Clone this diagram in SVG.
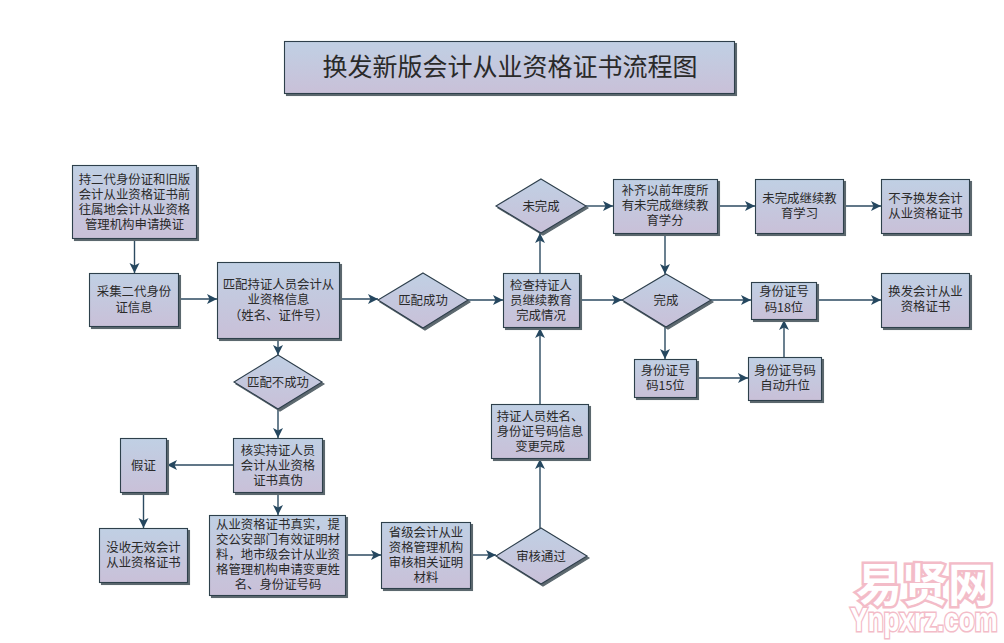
<svg xmlns="http://www.w3.org/2000/svg" width="1004" height="643" viewBox="0 0 1004 643">
<style>
.s{fill:url(#g);stroke:#2e3f4c;stroke-width:1.1;filter:url(#sh)}
text{font-family:"Noto Sans CJK SC","Liberation Serif",sans-serif;fill:#2a2a2a;text-anchor:middle;font-size:12.4px}
.t{font-size:25px}
.c line{stroke:#2c4a60;stroke-width:1.4;marker-end:url(#a)}
.w{font-weight:700;fill:#fff;stroke:#f3bcc8;paint-order:stroke}
.w1{font-size:46px;stroke-width:5px}
.w2{font-family:"Liberation Sans",sans-serif;font-size:26px;stroke-width:2.5px}
</style>
<defs>
<linearGradient id="g" x1="0" y1="0" x2="0" y2="1"><stop offset="0" stop-color="#c0d0e4"/><stop offset="1" stop-color="#c9c0d8"/></linearGradient>
<filter id="sh" x="-10%" y="-10%" width="120%" height="125%"><feDropShadow dx="2" dy="2" stdDeviation="0.5" flood-color="#5c686e"/></filter>
<marker id="a" markerUnits="userSpaceOnUse" markerWidth="12" markerHeight="12" refX="10" refY="5" orient="auto"><path d="M0 0L10 5L0 10L2.500 5Z" fill="#25475f"/></marker>
</defs>
<rect width="1004" height="643" fill="#fff"/>
<g id="connectors" class="c">
<line x1="134.500" y1="239" x2="134.500" y2="273"/>
<line x1="179" y1="299" x2="217" y2="299"/>
<line x1="340" y1="299" x2="378" y2="299"/>
<line x1="278" y1="339" x2="278" y2="355"/>
<line x1="278" y1="409" x2="278" y2="438"/>
<line x1="234" y1="465" x2="167" y2="465"/>
<line x1="143.500" y1="492" x2="143.500" y2="528"/>
<line x1="278" y1="492" x2="278" y2="515"/>
<line x1="346" y1="555" x2="381" y2="555"/>
<line x1="471" y1="555" x2="496" y2="555"/>
<line x1="540" y1="528" x2="540" y2="459"/>
<line x1="540" y1="404" x2="540" y2="328"/>
<line x1="468" y1="300" x2="503" y2="300"/>
<line x1="540" y1="273" x2="540" y2="233"/>
<line x1="586" y1="206" x2="613" y2="206"/>
<line x1="718" y1="206" x2="755" y2="206"/>
<line x1="844" y1="206" x2="881" y2="206"/>
<line x1="665" y1="233" x2="665" y2="274"/>
<line x1="579" y1="300" x2="622" y2="300"/>
<line x1="711" y1="300" x2="751" y2="300"/>
<line x1="817" y1="300" x2="881" y2="300"/>
<line x1="665" y1="327" x2="665" y2="359"/>
<line x1="697" y1="378" x2="748" y2="378"/>
<line x1="784" y1="357" x2="784" y2="320"/>
</g>
<g id="title"><rect class="s" x="284.500" y="41.500" width="450" height="52"/><text class="t" x="510" y="76">换发新版会计从业资格证书流程图</text></g>
<g id="n1"><rect class="s" x="72.500" y="165.500" width="124" height="73"/><text x="134.500" y="183.500">持二代身份证和旧版<tspan x="134.500" y="198.800">会计从业资格证书前</tspan><tspan x="134.500" y="214.100">往属地会计从业资格</tspan><tspan x="134.500" y="229.400">管理机构申请换证</tspan></text></g>
<g id="n2"><rect class="s" x="89.500" y="273.500" width="89" height="53"/><text x="134" y="296">采集二代身份<tspan x="134" y="312">证信息</tspan></text></g>
<g id="n3"><rect class="s" x="217.500" y="262.500" width="122" height="76"/><text x="278.500" y="289">匹配持证人员会计从<tspan x="278.500" y="304">业资格信息</tspan><tspan x="278.500" y="320">（姓名、证件号）</tspan></text></g>
<g id="d1"><path class="s" d="M423 273L468 300L423 328L378 300Z"/><text x="423" y="304.500">匹配成功</text></g>
<g id="d2"><path class="s" d="M278 355L322 382L278 409L234 382Z"/><text x="278" y="386.500">匹配不成功</text></g>
<g id="n4"><rect class="s" x="233.500" y="438.500" width="89" height="54"/><text x="278" y="454.500">核实持证人员<tspan x="278" y="469.500">会计从业资格</tspan><tspan x="278" y="484.500">证书真伪</tspan></text></g>
<g id="n5"><rect class="s" x="120.500" y="438.500" width="46" height="54"/><text x="143.500" y="470">假证</text></g>
<g id="n6"><rect class="s" x="99.500" y="528.500" width="88" height="54"/><text x="143.500" y="552">没收无效会计<tspan x="143.500" y="567">从业资格证书</tspan></text></g>
<g id="n7"><rect class="s" x="209.500" y="515.500" width="136" height="80"/><text x="278" y="529">从业资格证书真实，提<tspan x="278" y="544">交公安部门有效证明材</tspan><tspan x="278" y="559">料，地市级会计从业资</tspan><tspan x="278" y="574">格管理机构申请变更姓</tspan><tspan x="278" y="589">名、身份证号码</tspan></text></g>
<g id="n8"><rect class="s" x="381.500" y="522.500" width="89" height="66"/><text x="426" y="537">省级会计从业<tspan x="426" y="552">资格管理机构</tspan><tspan x="426" y="567">审核相关证明</tspan><tspan x="426" y="582">材料</tspan></text></g>
<g id="d3"><path class="s" d="M541 528L587 556L541 584L496 556Z"/><text x="541" y="560.500">审核通过</text></g>
<g id="n9"><rect class="s" x="491.500" y="404.500" width="97" height="54"/><text x="540" y="420.500">持证人员姓名、<tspan x="540" y="435.500">身份证号码信息</tspan><tspan x="540" y="450.500">变更完成</tspan></text></g>
<g id="n10"><rect class="s" x="503.500" y="273.500" width="76" height="54"/><text x="541" y="289.500">检查持证人<tspan x="541" y="304.500">员继续教育</tspan><tspan x="541" y="319.500">完成情况</tspan></text></g>
<g id="d4"><path class="s" d="M541 179L586 206L541 233L496 206Z"/><text x="541" y="210.500">未完成</text></g>
<g id="n11"><rect class="s" x="613.500" y="179.500" width="104" height="54"/><text x="665" y="195">补齐以前年度所<tspan x="665" y="210">有未完成继续教</tspan><tspan x="665" y="225">育学分</tspan></text></g>
<g id="n12"><rect class="s" x="755.500" y="179.500" width="88" height="54"/><text x="799.500" y="203">未完成继续教<tspan x="799.500" y="218">育学习</tspan></text></g>
<g id="n13"><rect class="s" x="881.500" y="179.500" width="88" height="54"/><text x="925.500" y="203">不予换发会计<tspan x="925.500" y="218">从业资格证书</tspan></text></g>
<g id="d5"><path class="s" d="M666 274L711 300L666 327L622 300Z"/><text x="666" y="304.500">完成</text></g>
<g id="n14"><rect class="s" x="751.500" y="282.500" width="65" height="37"/><text x="784" y="296">身份证号<tspan x="784" y="312">码18位</tspan></text></g>
<g id="n15"><rect class="s" x="881.500" y="273.500" width="88" height="54"/><text x="925.500" y="296">换发会计从业<tspan x="925.500" y="311">资格证书</tspan></text></g>
<g id="n16"><rect class="s" x="634.500" y="359.500" width="62" height="38"/><text x="665.500" y="375">身份证号<tspan x="665.500" y="390">码15位</tspan></text></g>
<g id="n17"><rect class="s" x="748.500" y="357.500" width="73" height="43"/><text x="785" y="375">身份证号码<tspan x="785" y="390">自动升位</tspan></text></g>
<g id="watermark"><text class="w w1" x="925" y="601">易贤网</text><text class="w w2" transform="translate(924 631) scale(1 1.25)">Ynpxrz.com</text></g>
</svg>
